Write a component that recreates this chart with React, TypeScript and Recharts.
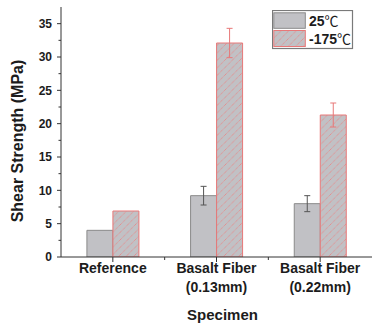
import React from 'react';
import { BarChart, Bar, XAxis, YAxis, ErrorBar, Legend, Label } from 'recharts';

const categories = ['Reference', 'Basalt Fiber\n(0.13mm)', 'Basalt Fiber\n(0.22mm)'];
const roomTemp = [4.0, 9.2, 8.0];
const roomTempErr = [null, 1.4, 1.2];
const cryoTemp = [6.9, 32.1, 21.3];
const cryoTempErr = [null, 2.2, 1.8];
const seriesNames = ['25℃', '-175℃'];
const yTicks = [0, 2.5, 5, 7.5, 10, 12.5, 15, 17.5, 20, 22.5, 25, 27.5, 30, 32.5, 35];
const yDomain = [0, 37.5];

const data = categories.map((name, i) => ({
  name,
  room: roomTemp[i],
  roomErr: roomTempErr[i],
  cryo: cryoTemp[i],
  cryoErr: cryoTempErr[i],
}));

const FONT = '"Liberation Sans", Arial, sans-serif';
const CJK = '"Noto Sans CJK SC", "Noto Sans CJK JP", sans-serif';
const TEXT = '#1c1c1c';
const AXIS = '#333';
const GRAY_FILL = '#c1c1c5';
const GRAY_STROKE = '#8a8a8a';
const RED = '#e87878';
const HATCH = '#ea8585';

const HatchDef = ({ id }: { id: string }) => (
  <pattern id={id} patternUnits="userSpaceOnUse" width="7.5" height="7.5">
    <rect width="7.5" height="7.5" fill={GRAY_FILL} />
    <path d="M-1,1 l2,-2 M0,7.5 l7.5,-7.5 M6.5,8.5 l2,-2" stroke={HATCH} strokeWidth="0.9" strokeDasharray="1.2 0.6" />
  </pattern>
);

const YTick = (props: any) => {
  const { x, y, payload } = props;
  const v = payload.value;
  const major = v % 5 === 0;
  return (
    <g>
      <line x1={x - (major ? 4 : 2.5)} x2={x} y1={y} y2={y} stroke={AXIS} strokeWidth={1} />
      {major && (
        <text x={x - 9} y={y} dy="0.36em" textAnchor="end" fontFamily={FONT} fontWeight="bold" fontSize={12} fill={TEXT}>
          {v}
        </text>
      )}
    </g>
  );
};

const XTick = (props: any) => {
  const { x, y, payload, index, visibleTicksCount } = props;
  const lines = String(payload.value).split('\n');
  const half = payload.offset ?? 0;
  const last = index === (visibleTicksCount ?? 3) - 1;
  return (
    <g>
      <line x1={x} x2={x} y1={y} y2={y + 5} stroke={AXIS} strokeWidth={1} />
      {!last && half > 0 && (
        <line x1={x + half} x2={x + half} y1={y} y2={y + 3} stroke={AXIS} strokeWidth={1} />
      )}
      {lines.map((l, i) => (
        <text key={i} x={x} y={y + 16 + i * 19} textAnchor="middle" fontFamily={FONT} fontWeight="bold" fontSize={14} fill={TEXT}>
          {l}
        </text>
      ))}
    </g>
  );
};

const LegendLabel = ({ x, y, label }: { x: number; y: number; label: string }) => {
  const num = label.replace('℃', '');
  return (
    <text x={x} y={y} fontFamily={FONT} fontWeight="bold" fontSize={14} fill={TEXT}>
      {num}
      <tspan fontFamily={CJK} fontWeight="normal" fontSize={14}>℃</tspan>
    </text>
  );
};

const LegendBox = () => (
  <svg width={82} height={40} style={{ display: 'block' }}>
    <defs>
      <HatchDef id="hatchLegend" />
    </defs>
    <rect x={0.5} y={0.5} width={80} height={38} fill="#fff" stroke="#7a7a7a" strokeWidth={1.2} />
    <rect x={1.8} y={2.8} width={31.5} height={15.5} fill={GRAY_FILL} stroke={GRAY_STROKE} strokeWidth={1} />
    <rect x={1.8} y={20.5} width={31.5} height={16} fill="url(#hatchLegend)" stroke={RED} strokeWidth={1} />
    <LegendLabel x={37} y={15.5} label={seriesNames[0]} />
    <LegendLabel x={37} y={33.5} label={seriesNames[1]} />
  </svg>
);

export default function App() {
  return (
    <div style={{ position: 'absolute', left: 0, top: 0, width: 372, height: 326, background: '#fff' }}>
      <BarChart
        width={372}
        height={326}
        data={data}
        margin={{ top: 7, right: 0, left: 0, bottom: 0 }}
        barCategoryGap="25%"
        barGap={0}
      >
        <defs>
          <HatchDef id="hatchBar" />
        </defs>
        <XAxis
          dataKey="name"
          height={69}
          stroke={AXIS}
          tickLine={false}
          tickSize={0}
          tickMargin={0}
          interval={0}
          tick={<XTick />}
        >
          <Label
            content={() => (
              <text x={222.5} y={319.5} textAnchor="middle" fontFamily={FONT} fontWeight="bold" fontSize={15} fill={TEXT}>
                Specimen
              </text>
            )}
          />
        </XAxis>
        <YAxis
          width={61}
          domain={yDomain}
          ticks={yTicks}
          interval={0}
          stroke={AXIS}
          tickLine={false}
          tickSize={0}
          tickMargin={0}
          tick={<YTick />}
          allowDataOverflow
        >
          <Label
            content={() => (
              <text
                x={17}
                y={141}
                transform="rotate(-90 17 141)"
                textAnchor="middle"
                dominantBaseline="central"
                fontFamily={FONT}
                fontWeight="bold"
                fontSize={16}
                fill={TEXT}
              >
                Shear Strength (MPa)
              </text>
            )}
          />
        </YAxis>
        <Legend
          layout="horizontal"
          verticalAlign="middle"
          align="center"
          wrapperStyle={{ left: 272, top: 10, width: 82, height: 40 }}
          content={() => <LegendBox />}
        />
        <Bar dataKey="room" name={seriesNames[0]} fill={GRAY_FILL} stroke={GRAY_STROKE} strokeWidth={1} isAnimationActive={false}>
          <ErrorBar dataKey="roomErr" width={3} stroke="#555" strokeWidth={1} direction="y" />
        </Bar>
        <Bar dataKey="cryo" name={seriesNames[1]} fill="url(#hatchBar)" stroke={RED} strokeWidth={1} isAnimationActive={false}>
          <ErrorBar dataKey="cryoErr" width={3} stroke={RED} strokeWidth={1} direction="y" />
        </Bar>
      </BarChart>
    </div>
  );
}
